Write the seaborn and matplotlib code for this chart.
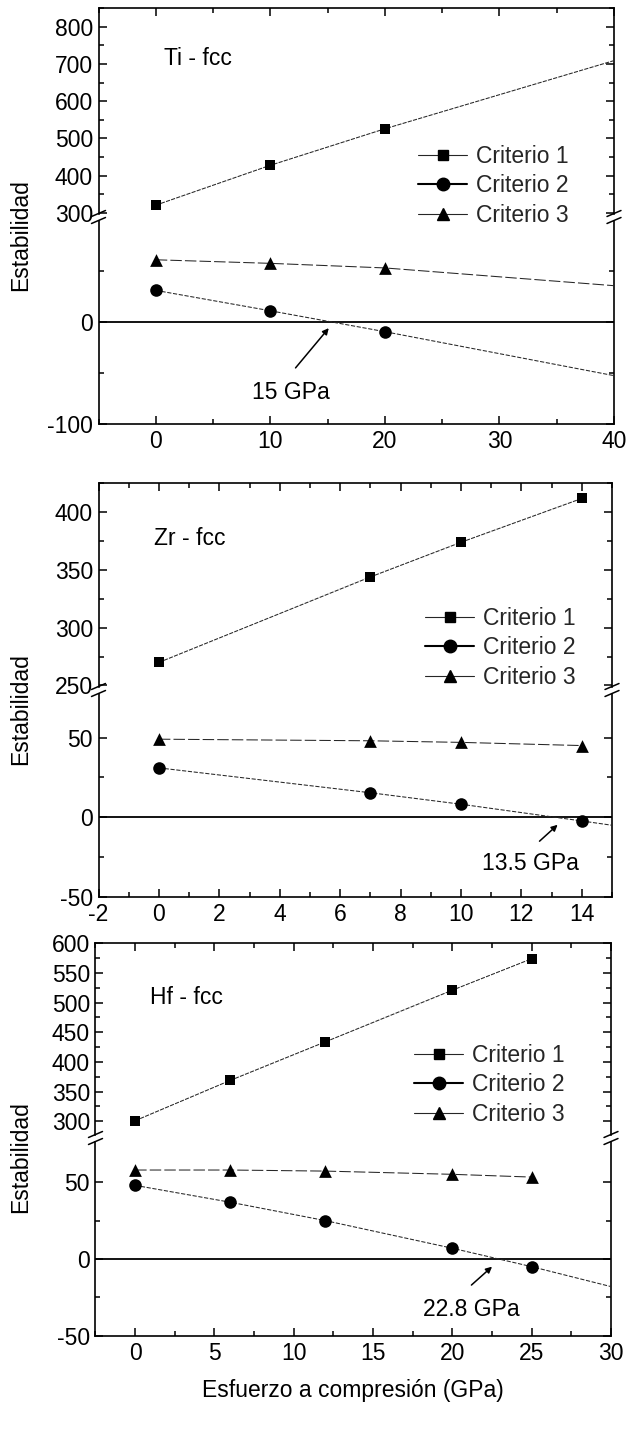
import numpy as np
import pandas as pd
import matplotlib
matplotlib.use("Agg")
import matplotlib.pyplot as plt
from matplotlib.lines import Line2D
from matplotlib.ticker import MultipleLocator, FixedLocator, FuncFormatter
import seaborn as sns

# ---------------- data ----------------
series_names = ["Criterio 1", "Criterio 2", "Criterio 3"]
titles = ["Ti - fcc", "Zr - fcc", "Hf - fcc"]
annot_labels = ["15 GPa", "13.5 GPa", "22.8 GPa"]

ti_x = [0, 10, 20]
ti_c1 = [321, 428, 526]
ti_c2 = [31, 11, -9.5]
ti_c3 = [61, 57.5, 53]
# where the drawn trend lines meet the right edge (x = 40)
ti_edge_x = 40
ti_edge_c1 = 709
ti_edge_c2 = -52.6
ti_edge_c3 = 35.6

zr_x = [0, 7, 10, 14]
zr_c1 = [270, 344, 374, 412]
zr_c2 = [31, 15.4, 8.2, -2.3]
zr_c3 = [49, 48, 47, 45]
zr_edge_x = 15
zr_edge_c2 = -5

hf_x = [0, 6, 12, 20, 25]
hf_c1 = [301, 369, 434, 521, 574]
hf_c2 = [48, 37, 25, 7, -5]
hf_c3 = [58, 58, 57.3, 55.2, 53.4]
hf_edge_x = 30
hf_edge_c2 = -18

# annotation positions (text centre, arrow tail, arrow tip) in data units
ti_annot = [(11.8, -69), (12.2, -45), (15.1, -6)]
zr_annot = [(12.3, -29), (12.6, -15), (13.2, -4.7)]
hf_annot = [(21.2, -33), (21.2, -17), (22.5, -5)]

# ---------------- style ----------------
sns.set_theme(style="ticks")
plt.rcParams["font.family"] = ["Liberation Sans", "DejaVu Sans"]
plt.rcParams["axes.linewidth"] = 1.2

W, H = 629, 1436
fig = plt.figure(figsize=(W / 100, H / 100), dpi=100)

FS = 16.5
TFS = 16.5

def fx(px):
    return px / W

def fy(py):
    return 1 - py / H

def lim_from(top_px, bot_px, v1, p1, v2, p2):
    s = (p2 - p1) / (v1 - v2)  # px per unit
    top = v1 + (p1 - top_px) / s
    bot = v1 - (bot_px - p1) / s
    return bot, top

line_kw = dict(color="#262626", linewidth=0.75)
ls1 = (0, (4, 1.2))
ls2 = (0, (4, 1.6))
ls3 = (0, (11, 3))

def style_ax(ax, upper, xlim, xmaj, xmin):
    ax.set_xlim(*xlim)
    ax.xaxis.set_major_locator(MultipleLocator(xmaj))
    ax.xaxis.set_minor_locator(MultipleLocator(xmin))
    ax.tick_params(which="both", direction="in", top=upper, bottom=not upper,
                   left=True, right=True, labelbottom=not upper, labeltop=False,
                   labelsize=TFS, width=1.1, pad=4, colors="black")
    ax.tick_params(which="major", length=6)
    ax.tick_params(which="minor", length=3.5)
    ax.set_xlabel("")
    ax.set_ylabel("")
    for sp in ax.spines.values():
        sp.set_color("black")
        sp.set_linewidth(1.2)
    if upper:
        ax.spines["bottom"].set_visible(False)
    else:
        ax.spines["top"].set_visible(False)
    ax.set_facecolor("none")

def break_marks(xpx, ypx):
    for dy in (-3.5, 3.5):
        x0, x1 = xpx - 7, xpx + 7
        y0, y1 = ypx + dy + 3, ypx + dy - 3
        fig.add_artist(Line2D([fx(x0), fx(x1)], [fy(y0), fy(y1)],
                              color="black", lw=1.1, transform=fig.transFigure))

def markers(ax, x, y, mk, s):
    sns.scatterplot(x=x, y=y, ax=ax, marker=mk, s=s, color="black",
                    edgecolor="black", linewidth=0, zorder=4, legend=False)

def trend(ax, x, y, ls):
    sns.lineplot(x=x, y=y, ax=ax, linestyle=ls, sort=False, zorder=3,
                 legend=False, **line_kw)

SZ = {"s": 58, "o": 82, "^": 84}

panels = [
    dict(left=98.5, right=614, top=8, bottom=424, brk=217,
         xlim=(-5, 40), xmaj=10, xmin=5,
         up_ref=(800, 26.7, 300, 213), lo_ref=(0, 322, -100, 424),
         up_major=100, up_minor=50, lo_major=[-100, 0], lo_minor=[-50, 50],
         leg=(418, 145), ylab_y=235, title_xy=(0.7, 715)),
    dict(left=98.5, right=612, top=483, bottom=897, brk=690,
         xlim=(-2, 15), xmaj=2, xmin=1,
         up_ref=(400, 512.3, 250, 685.5), lo_ref=(0, 817.3, -50, 897),
         up_major=50, up_minor=25, lo_major=[-50, 0, 50], lo_minor=[-25, 25],
         leg=(425, 607), ylab_y=709, title_xy=(-0.16, 377)),
    dict(left=95.5, right=611, top=943, bottom=1336, brk=1138,
         xlim=(-2.5, 30), xmaj=5, xmin=2.5,
         up_ref=(600, 943.3, 300, 1121.3), lo_ref=(0, 1259, -50, 1335.7),
         up_major=50, up_minor=25, lo_major=[-50, 0, 50], lo_minor=[-25, 25],
         leg=(414, 1044), ylab_y=1157, title_xy=(0.95, 508)),
]

data = [
    dict(x=ti_x, c1=ti_c1, c2=ti_c2, c3=ti_c3,
         l1=(ti_x + [ti_edge_x], ti_c1 + [ti_edge_c1]),
         l2=(ti_x + [ti_edge_x], ti_c2 + [ti_edge_c2]),
         l3=(ti_x + [ti_edge_x], ti_c3 + [ti_edge_c3]), ann=ti_annot),
    dict(x=zr_x, c1=zr_c1, c2=zr_c2, c3=zr_c3,
         l1=(zr_x, zr_c1),
         l2=(zr_x + [zr_edge_x], zr_c2 + [zr_edge_c2]),
         l3=(zr_x, zr_c3), ann=zr_annot),
    dict(x=hf_x, c1=hf_c1, c2=hf_c2, c3=hf_c3,
         l1=(hf_x, hf_c1),
         l2=(hf_x + [hf_edge_x], hf_c2 + [hf_edge_c2]),
         l3=(hf_x, hf_c3), ann=hf_annot),
]

fmt = FuncFormatter(lambda v, pos: f"{v:g}")

gap = 3.5
for i, (p, d) in enumerate(zip(panels, data)):
    up_top, up_bot = p["top"], p["brk"] - gap
    lo_top, lo_bot = p["brk"] + gap, p["bottom"]
    axu = fig.add_axes([fx(p["left"]), fy(up_bot), fx(p["right"] - p["left"]),
                        (up_bot - up_top) / H])
    axl = fig.add_axes([fx(p["left"]), fy(lo_bot), fx(p["right"] - p["left"]),
                        (lo_bot - lo_top) / H])
    v1, p1, v2, p2 = p["up_ref"]
    yup = lim_from(up_top, up_bot, v1, p1, v2, p2)
    axu.set_ylim(yup[0] - 0.01, yup[1])
    v1, p1, v2, p2 = p["lo_ref"]
    ylo = lim_from(lo_top, lo_bot, v1, p1, v2, p2)
    axl.set_ylim(ylo[0] - 0.01, ylo[1])

    # lines and markers
    trend(axu, *d["l1"], ls1)
    markers(axu, d["x"], d["c1"], "s", SZ["s"])
    axl.axhline(0, color="black", lw=1.3, zorder=2)
    trend(axl, *d["l2"], ls2)
    trend(axl, *d["l3"], ls3)
    markers(axl, d["x"], d["c2"], "o", SZ["o"])
    markers(axl, d["x"], d["c3"], "^", SZ["^"])

    style_ax(axu, True, p["xlim"], p["xmaj"], p["xmin"])
    style_ax(axl, False, p["xlim"], p["xmaj"], p["xmin"])
    axu.yaxis.set_major_locator(MultipleLocator(p["up_major"]))
    axu.yaxis.set_minor_locator(MultipleLocator(p["up_minor"]))
    axl.yaxis.set_major_locator(FixedLocator(p["lo_major"]))
    axl.yaxis.set_minor_locator(FixedLocator(p["lo_minor"]))
    axl.xaxis.set_major_formatter(fmt)
    axl.yaxis.set_major_formatter(fmt)
    axu.yaxis.set_major_formatter(fmt)

    # title
    axu.text(p["title_xy"][0], p["title_xy"][1], titles[i], fontsize=FS,
             ha="left", va="center", color="black")

    # annotation
    (tx, ty), (ax0, ay0), (ax1, ay1) = d["ann"]
    axl.annotate("", xy=(ax1, ay1), xytext=(ax0, ay0),
                 arrowprops=dict(arrowstyle="-|>", color="black", lw=1.1,
                                 mutation_scale=9, shrinkA=0, shrinkB=0))
    axl.text(tx, ty, annot_labels[i], fontsize=FS, ha="center", va="center",
             color="black")

    # break marks
    break_marks(p["left"], p["brk"])
    break_marks(p["right"], p["brk"])

    # legend
    handles = [
        Line2D([], [], color="#262626", lw=0.8, marker="s", markersize=7.6,
               markerfacecolor="black", markeredgecolor="black"),
        Line2D([], [], color="black", lw=1.5, marker="o", markersize=9,
               markerfacecolor="black", markeredgecolor="black"),
        Line2D([], [], color="#262626", lw=0.8, marker="^", markersize=9,
               markerfacecolor="black", markeredgecolor="black"),
    ]
    fig.legend(handles, series_names, loc="upper left",
               bbox_to_anchor=(fx(p["leg"][0]), fy(p["leg"][1])),
               bbox_transform=fig.transFigure, frameon=False, fontsize=FS,
               handlelength=2.15, handletextpad=0.4, labelspacing=0.28,
               borderpad=0, borderaxespad=0)

    # y label
    fig.text(fx(21), fy(p["ylab_y"]), "Estabilidad", rotation=90, fontsize=FS,
             ha="center", va="center", color="black")

fig.text(fx(353), fy(1390), "Esfuerzo a compresión (GPa)", fontsize=FS,
         ha="center", va="center", color="black")

fig.savefig("out.png", dpi=100, facecolor="white")
